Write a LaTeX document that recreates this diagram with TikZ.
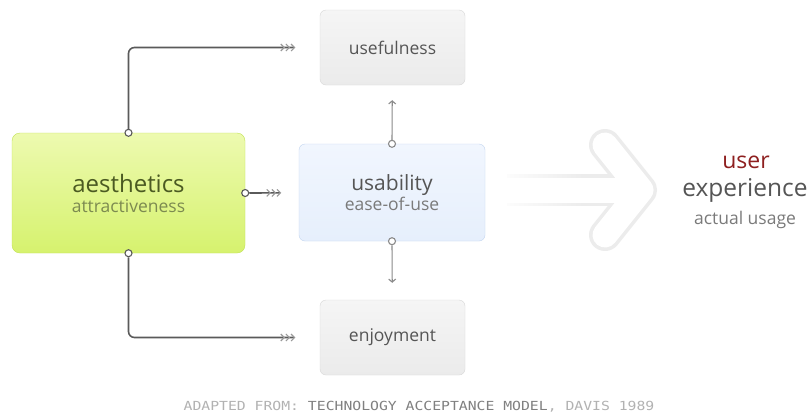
\documentclass[tikz,border=0pt]{standalone}
\usepackage{fontspec}
\setmainfont{Open Sans}
\newfontfamily\pixfont{DejaVu Sans Mono}
\usetikzlibrary{arrows.meta,fadings}

\definecolor{boxtop}{HTML}{F5F5F5}
\definecolor{boxbot}{HTML}{EBEBEB}
\definecolor{boxline}{HTML}{D8D8D8}
\definecolor{greentop}{HTML}{EDFAB0}
\definecolor{greenbot}{HTML}{D6F26E}
\definecolor{greenline}{HTML}{C2E255}
\definecolor{bluetop}{HTML}{F1F6FE}
\definecolor{bluebot}{HTML}{E6EFFC}
\definecolor{blueline}{HTML}{C3D6F0}
\definecolor{linkgray}{HTML}{5A5A5A}
\definecolor{tipgray}{HTML}{9A9A9A}
\definecolor{usegray}{HTML}{8A8A8A}
\definecolor{textgray}{HTML}{555555}
\definecolor{subgray}{HTML}{7A7A7A}
\definecolor{olive}{HTML}{4B5A22}
\definecolor{oliveli}{HTML}{7C8A50}
\definecolor{userred}{HTML}{8E1F1F}
\definecolor{bigarrow}{HTML}{ECECEC}

\begin{document}
\begin{tikzpicture}[x=1pt,y=-1pt,
    box/.style={draw=boxline, rounded corners=6pt, top color=boxtop, bottom color=boxbot,
      minimum width=145pt, minimum height=75pt, text=textgray, font=\fontsize{17.5}{20}\selectfont},
    dot/.style={circle, draw=linkgray, fill=white, line width=1.1pt, inner sep=0pt, minimum size=7pt},
    aelink/.style={draw=linkgray, line width=1.6pt, rounded corners=6pt,
      -{Straight Barb[length=3.5pt,width=7pt,line width=1.1pt,color=tipgray,sep=0.3pt]
        Straight Barb[length=3.5pt,width=7pt,line width=1.1pt,color=tipgray,sep=0.3pt]
        Straight Barb[length=3.5pt,width=7pt,line width=1.1pt,color=tipgray,sep=1.5pt]}},
    uselink/.style={draw=usegray, line width=1.1pt, -{Straight Barb[length=3pt,width=7pt]}}]
    \fill[white] (0,0) rectangle (812,416);
    \useasboundingbox (0,0) rectangle (812,416);
    % Drawing big arrow
    \begin{scope}[line join=round]
      \draw[bigarrow, line width=32pt] (507,190) -- (640,190);
      \draw[bigarrow, line width=32pt, line cap=round] (605,145) -- (641,190) -- (605,235);
      \draw[white, line width=25pt] (500,190) -- (636,190);
      \draw[white, line width=25pt, line cap=round] (605,145) -- (641,190) -- (605,235);
      \fill[white, path fading=east] (495,170) rectangle (585,210);
    \end{scope}
    % Drawing boxes
    \node[box, draw=greenline, top color=greentop, bottom color=greenbot, rounded corners=8pt,
      minimum width=233pt, minimum height=120pt, align=center, text=oliveli] (aest) at (128.5,193)
      {{\fontsize{24}{20}\selectfont\color{olive}aesthetics}\\attractiveness};
    \node[box, draw=blueline, top color=bluetop, bottom color=bluebot,
      minimum width=186pt, minimum height=97pt, align=center, text=subgray] (usab) at (392,192.5)
      {{\fontsize{21}{20}\selectfont\color{textgray}usability}\\ease-of-use};
    \node[box] (useful) at (392.5,47.5) {usefulness};
    \node[box] (enjoy) at (392.5,337.5) {enjoyment};
    % Drawing dots
    \node[dot] (atop) at (aest.north) {};
    \node[dot] (abot) at (aest.south) {};
    \node[dot] (aright) at (aest.east) {};
    \node[dot, draw=usegray] (ustop) at (usab.north) {};
    \node[dot, draw=usegray] (usbot) at (usab.south) {};
    % Drawing connectors
    \draw[aelink, shorten >=23pt] (atop) |- (useful);
    \draw[aelink, shorten >=23pt] (abot) |- (enjoy);
    \draw[aelink, shorten >=16pt] (aright) -- (usab);
    \draw[uselink, shorten >=15pt] (ustop) -- (useful);
    \draw[uselink, shorten >=17pt] (usbot) -- (enjoy);
    % Drawing result
    \node[text=userred, font=\fontsize{23}{24}\selectfont] (user) at (746,162) {user};
    \node[text=textgray, font=\fontsize{24.5}{26}\selectfont] (exper) at (745,190) {experience};
    \node[text=subgray, font=\fontsize{17.5}{20}\selectfont] (usage) at (745,220) {actual usage};
    % Drawing footer
    \node[font=\pixfont\fontsize{12.5}{12}\selectfont, text=black!30] (credit) at (419,407)
      {\scalebox{1.18}[1]{ADAPTED FROM: \textcolor{black!50}{TECHNOLOGY ACCEPTANCE MODEL}, DAVIS 1989}};
  \end{tikzpicture}
\end{document}
